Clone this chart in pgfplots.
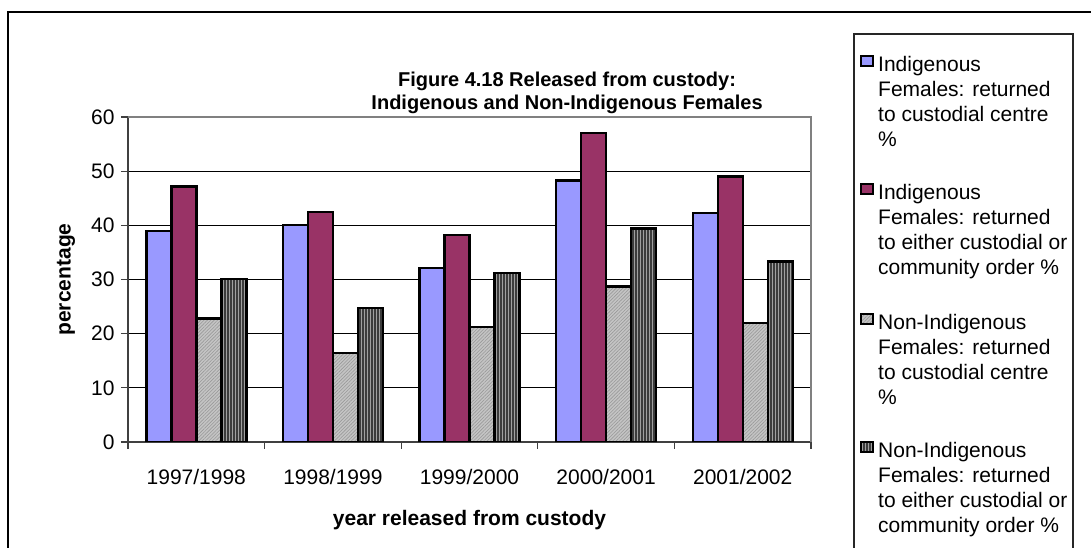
\documentclass[border=0pt]{standalone}
\usepackage{pgfplots}
\usepackage{pgfplotstable}
\pgfplotsset{compat=1.18}
\usetikzlibrary{patterns.meta}
\usepackage{fontspec}
\setmainfont{Liberation Sans}
\definecolor{cblue}{HTML}{9999FF}
\definecolor{cpurple}{HTML}{993366}
\definecolor{clight}{HTML}{C4C4C4}
\definecolor{clightpat}{HTML}{999999}
\definecolor{cdark}{HTML}{A0A0A0}
\definecolor{cdarkpat}{HTML}{3C3C3C}
\definecolor{caxis}{HTML}{404040}
\definecolor{cborder}{HTML}{808080}
\newcommand{\fs}{\fontsize{21}{25}\selectfont}

\pgfplotstableread{
x a b c d
0 38.9 47.2 22.8 30.1
1 40.1 42.5 16.4 24.7
2 32.1 38.2 21.2 31.2
3 48.3 57.0 28.7 39.4
4 42.3 49.0 22.0 33.3
}\data

\tikzset{
  sA/.style={draw=black, fill=cblue},
  sB/.style={draw=black, fill=cpurple},
  sC/.style={draw=black, preaction={fill=clight}, pattern={Lines[angle=45,distance=2.4pt,line width=0.6pt]}, pattern color=clightpat},
  sD/.style={draw=black, preaction={fill=cdark}, pattern={Lines[angle=90,distance=3pt,line width=1.3pt]}, pattern color=cdarkpat},
}

\begin{document}
\begin{tikzpicture}
\useasboundingbox (0pt,0pt) rectangle (1091pt,548pt);
% chart area border (image y -> 548 - y)
\draw[line width=1.6pt] (8pt,-10pt) -- (8pt,536pt) -- (1100pt,536pt);
% legend box
\draw[line width=1.1pt, draw=black!85] (854pt,-10pt) -- (854pt,514pt) -- (1073pt,514pt) -- (1073pt,-10pt);

\begin{axis}[
  at={(128pt,106pt)}, anchor=south west,
  scale only axis, width=683pt, height=325pt,
  ybar=0pt, bar width=25pt,
  xmin=-0.5, xmax=4.5, ymin=0, ymax=60,
  enlargelimits=false,
  axis x line*=bottom, axis y line*=left,
  x axis line style={draw=caxis, line width=1.5pt},
  y axis line style={draw=caxis, line width=1.5pt},
  ytick={0,10,...,60},
  xtick={-0.5,0.5,1.5,2.5,3.5,4.5},
  xticklabels={,,,,,},
  extra x ticks={0,1,2,3,4},
  extra x tick labels={1997/1998,1998/1999,1999/2000,2000/2001,2001/2002},
  extra x tick style={major tick length=0pt, grid=none,
     xticklabel style={anchor=base, yshift=-42pt}},
  tick align=outside,
  major tick length=7pt,
  tick style={draw=caxis, line width=1.2pt},
  ymajorgrids,
  grid style={draw=black, line width=0.9pt},
  ticklabel style={font=\fs},
  yticklabel style={xshift=-3pt},
  /pgf/number format/assume math mode=true,
  ylabel={percentage},
  ylabel style={font=\bfseries\fs, at={(axis description cs:-0.0908,0.5)}, anchor=center, rotate=0},
  xlabel={year released from custody},
  xlabel style={font=\bfseries\fs, at={(axis description cs:0.5,-0.2554)}, anchor=base},
  title={Figure 4.18 Released from custody:\\Indigenous and Non-Indigenous Females},
  title style={font=\bfseries\fontsize{20}{23}\selectfont, align=center, at={(axis description cs:0.6428,1)}, anchor=south, inner sep=0pt, yshift=-3pt},
  every axis plot/.append style={line width=2.4pt},
  extra description/.code={
    \draw[draw=cborder, line width=1.8pt] (rel axis cs:0,1) -- (rel axis cs:1,1) -- (rel axis cs:1,0);
  },
]
\addplot[sA] table[x=x,y=a] {\data};
\addplot[sB] table[x=x,y=b] {\data};
\addplot[sC] table[x=x,y=c] {\data};
\addplot[sD] table[x=x,y=d] {\data};
\end{axis}

% legend
\newcommand{\legsq}[2]{\draw[#1, line width=2pt] (861pt,{(548-#2+6)*1pt}) rectangle (873pt,{(548-#2+16)*1pt});}
\newcommand{\legline}[2]{\node[anchor=base west, inner sep=0pt, font=\fs] at (878pt,{(548-#1)*1pt}) {#2};}
\legsq{sA}{72}
\legline{72}{Indigenous}
\legline{97}{Females: returned}
\legline{122}{to custodial centre}
\legline{147}{\%}
\legsq{sB}{200}
\legline{200}{Indigenous}
\legline{225}{Females: returned}
\legline{250}{to either custodial or}
\legline{275}{community order \%}
\legsq{sC}{330}
\legline{330}{Non-Indigenous}
\legline{355}{Females: returned}
\legline{380}{to custodial centre}
\legline{405}{\%}
\legsq{sD}{458}
\legline{458}{Non-Indigenous}
\legline{483}{Females: returned}
\legline{508}{to either custodial or}
\legline{533}{community order \%}
\end{tikzpicture}
\end{document}
